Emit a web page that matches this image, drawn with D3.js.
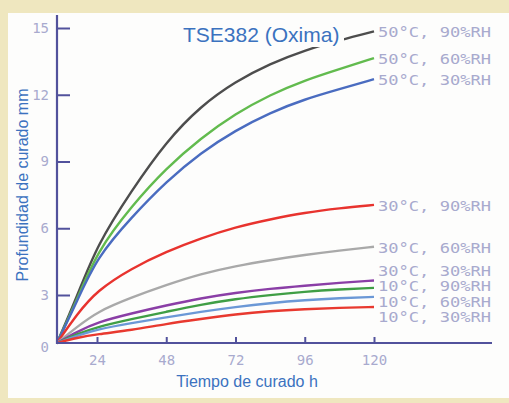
<!DOCTYPE html>
<html>
<head>
<meta charset="utf-8">
<script src="https://cdn.jsdelivr.net/npm/d3@7"></script>
<style>
  body { margin: 0; padding: 0; background: #efe7bf; }
</style>
</head>
<body>
<script>
var w = 509;
var h = 403;
var svg;

// ---- data ----
var hours = [0, 12, 24, 36, 48, 60, 72, 84, 96, 108, 120];

var seriesNames = ["50°C, 90%RH", "50°C, 60%RH", "50°C, 30%RH",
                   "30°C, 90%RH", "30°C, 60%RH", "30°C, 30%RH",
                   "10°C, 90%RH", "10°C, 60%RH", "10°C, 30%RH"];

var depth50_90 = [0, 2.9, 5.25, 7.7, 9.9, 11.5, 12.6, 13.4, 14.0, 14.45, 14.85];
var depth50_60 = [0, 2.7, 4.95, 7.0, 8.7, 10.05, 11.15, 12.0, 12.65, 13.15, 13.65];
var depth50_30 = [0, 2.6, 4.7, 6.5, 8.1, 9.4, 10.4, 11.2, 11.8, 12.25, 12.7];
var depth30_90 = [0, 1.8, 3.2, 4.2, 4.95, 5.55, 6.05, 6.4, 6.7, 6.9, 7.05];
var depth30_60 = [0, 1.0, 1.95, 2.85, 3.45, 3.95, 4.3, 4.57, 4.8, 5.0, 5.17];
var depth30_30 = [0, 0.7, 1.3, 1.85, 2.35, 2.8, 3.1, 3.28, 3.42, 3.55, 3.65];
var depth10_90 = [0, 0.55, 1.0, 1.5, 1.95, 2.4, 2.75, 3.0, 3.15, 3.25, 3.32];
var depth10_60 = [0, 0.45, 0.85, 1.25, 1.6, 1.95, 2.25, 2.5, 2.68, 2.8, 2.88];
var depth10_30 = [0, 0.33, 0.55, 0.8, 1.2, 1.5, 1.8, 2.0, 2.12, 2.2, 2.25];

var allDepths = [depth50_90, depth50_60, depth50_30,
                 depth30_90, depth30_60, depth30_30,
                 depth10_90, depth10_60, depth10_30];

var yTicks = [0, 3, 6, 9, 12, 15];
var xTicks = [24, 48, 72, 96, 120];

// ---- style ----
var lineColors = ["#4d4d4d", "#62bb4e", "#4a6cc0",
                  "#e8332e", "#a9a9a9", "#8a3ea6",
                  "#3f9e45", "#6b98d6", "#e8392f"];
var axisColor = "#52529c";
var tickTextColor = "#a8aace";
var titleColor = "#3b72bf";

drawChart();
function drawChart(){
    svg = d3.select("body")
        .append("svg")
        .attr("width", w)
        .attr("height", h)
        .style("display", "block");

    //---background-----
    svg.append("rect")
        .attr("x", 0).attr("y", 0)
        .attr("width", w).attr("height", h)
        .attr("fill", "#efe7bf");

    svg.append("rect")
        .attr("x", 8).attr("y", 13)
        .attr("width", w - 8).attr("height", 385)
        .attr("fill", "#fdfdfc");

    // scales (the original axis is not evenly spaced near the origin)
    var x = d3.scaleLinear().domain([0, 24, 120]).range([57, 97, 374]);
    var y = d3.scaleLinear().domain([0, 3, 15]).range([343, 295, 28]);

    //---curves-----
    var line = d3.line()
        .x(function(d){ return x(d[0]); })
        .y(function(d){ return y(d[1]); })
        .curve(d3.curveBasis);

    allDepths.forEach(function(vals, i){
        svg.append("path")
            .datum(hours.map(function(t, k){ return [t, vals[k]]; }))
            .attr("d", line)
            .attr("fill", "none")
            .attr("stroke", lineColors[i])
            .attr("stroke-width", 2.4);
    });

    //---axes-----
    var yAxis = d3.axisLeft(y)
        .tickValues(yTicks)
        .tickSize(-13)
        .tickSizeOuter(0)
        .tickPadding(8);

    var gy = svg.append("g")
        .attr("transform", "translate(57,0)")
        .call(yAxis);
    gy.select(".domain").remove();
    gy.selectAll(".tick line")
        .attr("stroke", axisColor)
        .attr("stroke-width", 2)
        .filter(function(d){ return d === 0; }).remove();
    gy.selectAll(".tick text")
        .attr("fill", tickTextColor)
        .attr("font-family", "DejaVu Sans Mono")
        .attr("font-size", 14)
        .attr("dy", function(d){ return d === 0 ? "0.6em" : "0.32em"; });

    var xAxis = d3.axisBottom(x)
        .tickValues(xTicks)
        .tickSize(-6)
        .tickSizeOuter(0)
        .tickPadding(12);

    var gx = svg.append("g")
        .attr("transform", "translate(0,343)")
        .call(xAxis);
    gx.select(".domain").remove();
    gx.selectAll(".tick line")
        .attr("stroke", axisColor)
        .attr("stroke-width", 2);
    gx.selectAll(".tick text")
        .attr("fill", tickTextColor)
        .attr("font-family", "DejaVu Sans Mono")
        .attr("font-size", 14);

    svg.append("line")
        .attr("x1", 57).attr("y1", 15)
        .attr("x2", 57).attr("y2", 344)
        .attr("stroke", axisColor)
        .attr("stroke-width", 2.2);

    svg.append("line")
        .attr("x1", 56).attr("y1", 343)
        .attr("x2", 492).attr("y2", 343)
        .attr("stroke", axisColor)
        .attr("stroke-width", 2.2);

    //---series labels, pushed apart where they crowd-----
    var gap = 15.5;
    var labels = allDepths.map(function(vals, i){
        return { i: i, c: y(vals[vals.length - 1]) };
    }).sort(function(a, b){ return a.c - b.c; });

    var groups = labels.map(function(l){ return { items: [l], mean: l.c }; });
    var merged = true;
    while (merged) {
        merged = false;
        for (var g = 0; g < groups.length - 1; g++) {
            var a = groups[g], b = groups[g + 1];
            var aBottom = a.mean + (a.items.length - 1) * gap / 2;
            var bTop = b.mean - (b.items.length - 1) * gap / 2;
            if (bTop - aBottom < gap) {
                var items = a.items.concat(b.items);
                groups.splice(g, 2, { items: items, mean: d3.mean(items, function(d){ return d.c; }) });
                merged = true;
                break;
            }
        }
    }
    groups.forEach(function(grp){
        var start = grp.mean - (grp.items.length - 1) * gap / 2;
        grp.items.forEach(function(l, k){ l.pos = start + k * gap; });
    });

    labels.forEach(function(l){
        svg.append("text")
            .text(seriesNames[l.i])
            .attr("x", 378)
            .attr("y", l.pos + 6)
            .attr("textLength", 113)
            .attr("lengthAdjust", "spacingAndGlyphs")
            .attr("font-family", "DejaVu Sans Mono")
            .attr("font-size", 14)
            .attr("fill", tickTextColor);
    });

    //----titles------
    svg.append("rect")
        .attr("x", 180).attr("y", 20)
        .attr("width", 164).attr("height", 27)
        .attr("fill", "#fdfdfc");

    svg.append("text")
        .text("TSE382 (Oxima)")
        .attr("x", 183)
        .attr("y", 42)
        .attr("font-size", 21)
        .attr("font-family", "Liberation Sans")
        .attr("fill", titleColor);

    svg.append("text")
        .text("Profundidad de curado mm")
        .attr("transform", "translate(28,185) rotate(-90)")
        .attr("text-anchor", "middle")
        .attr("font-size", 16)
        .attr("font-family", "Liberation Sans")
        .attr("fill", titleColor);

    svg.append("text")
        .text("Tiempo de curado h")
        .attr("x", 247)
        .attr("y", 387)
        .attr("text-anchor", "middle")
        .attr("font-size", 16)
        .attr("font-family", "Liberation Sans")
        .attr("fill", titleColor);
}
</script>
</body>
</html>
